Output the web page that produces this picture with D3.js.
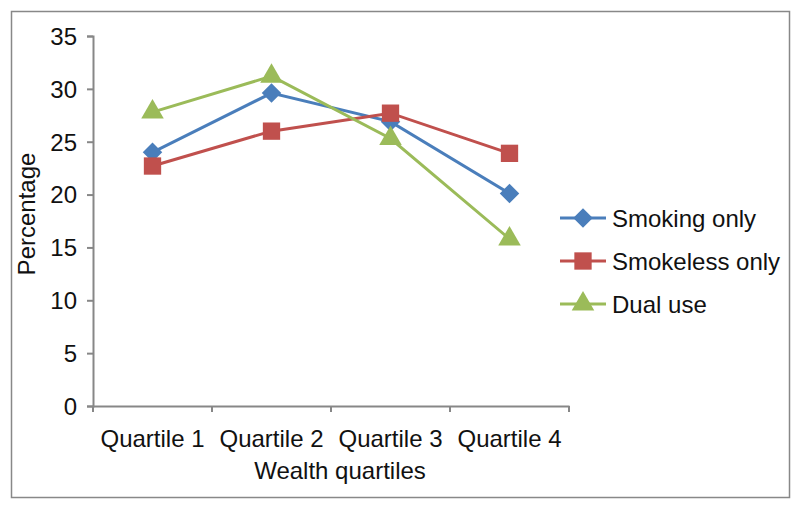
<!DOCTYPE html>
<html lang="en-US">
<head>
    <meta charset="UTF-8">
    <title>Wealth quartiles</title>
    <style>
    body {margin: 0; background: #fff;}
    svg text {font-family: "Liberation Sans", Arial, sans-serif; fill: #111;}
    </style>
</head>
<body>
    <div id="viz"></div>
    <script src="https://d3js.org/d3.v7.min.js"></script>
    <script>

    var quartiles = ["Quartile 1", "Quartile 2", "Quartile 3", "Quartile 4"];
    var smokingOnly = [24.0, 29.6, 26.9, 20.1];
    var smokelessOnly = [22.7, 26.0, 27.7, 23.9];
    var dualUse = [27.8, 31.2, 25.3, 15.8];
    var yTicks = [0, 5, 10, 15, 20, 25, 30, 35];

    var series = [
        {name: "Smoking only", values: smokingOnly, color: "#4A7EBB", shape: "diamond"},
        {name: "Smokeless only", values: smokelessOnly, color: "#C0504D", shape: "square"},
        {name: "Dual use", values: dualUse, color: "#9BBB59", shape: "triangle"}
    ];

    var width = 800,
        height = 509;

    var svg = d3.select("#viz").append("svg")
        .attr("width", width)
        .attr("height", height);

    // frame
    svg.append("rect")
        .attr("x", 11.5).attr("y", 11.5)
        .attr("width", 778).attr("height", 486)
        .attr("fill", "none")
        .attr("stroke", "#888")
        .attr("stroke-width", 1.5);

    var x = d3.scaleBand()
        .domain(quartiles)
        .range([93, 569]);

    var y = d3.scaleLinear()
        .domain([0, 35])
        .range([406, 36]);

    var axisColor = "#878787";

    // y axis
    var yAxis = svg.append("g")
        .attr("transform", "translate(93,0)")
        .call(d3.axisLeft(y).tickValues(yTicks).tickSize(6).tickPadding(10));
    yAxis.select(".domain").attr("stroke", axisColor).attr("stroke-width", 2);
    yAxis.selectAll(".tick line").attr("stroke", axisColor).attr("stroke-width", 2);
    yAxis.selectAll("text").style("font-size", "24px").attr("fill", "#111").attr("dy", "0.35em");

    // x axis, ticks between categories
    var xAxis = svg.append("g")
        .attr("transform", "translate(0,406)")
        .call(d3.axisBottom(x).tickSize(0).tickPadding(24));
    xAxis.select(".domain").attr("stroke", axisColor).attr("stroke-width", 2);
    xAxis.selectAll("text").style("font-size", "24px").attr("fill", "#111");

    var bounds = quartiles.map(function (q) { return x(q); }).concat([x.range()[1]]);
    xAxis.selectAll(".sep")
        .data(bounds)
        .enter().append("line")
        .attr("class", "sep")
        .attr("x1", function (d) { return d; })
        .attr("x2", function (d) { return d; })
        .attr("y1", 0).attr("y2", 6)
        .attr("stroke", axisColor)
        .attr("stroke-width", 2);

    // axis titles
    svg.append("text")
        .attr("transform", "translate(35,214) rotate(-90)")
        .attr("text-anchor", "middle")
        .style("font-size", "24px")
        .text("Percentage");

    svg.append("text")
        .attr("x", 340).attr("y", 479)
        .attr("text-anchor", "middle")
        .style("font-size", "24px")
        .text("Wealth quartiles");

    var line = d3.line()
        .x(function (d, i) { return x(quartiles[i]) + x.bandwidth() / 2; })
        .y(function (d) { return y(d); });

    function marker(shape) {
        if (shape === "triangle") return {d: d3.symbol().type(d3.symbolTriangle).size(220)(), rot: 0};
        if (shape === "square") return {d: d3.symbol().type(d3.symbolSquare).size(300)(), rot: 0};
        return {d: d3.symbol().type(d3.symbolSquare).size(190)(), rot: 45};
    }

    var lines = svg.append("g");
    series.forEach(function (s) {
        var g = lines.append("g");
        var m = marker(s.shape);
        g.append("path")
            .datum(s.values)
            .attr("d", line)
            .attr("fill", "none")
            .attr("stroke", s.color)
            .attr("stroke-width", 3);
        g.selectAll("path.pt")
            .data(s.values)
            .enter().append("path")
            .attr("class", "pt")
            .attr("transform", function (d, i) {
                return "translate(" + (x(quartiles[i]) + x.bandwidth() / 2) + "," + y(d) + ") rotate(" + m.rot + ")";
            })
            .attr("d", m.d)
            .attr("fill", s.color);
    });

    // legend
    var legend = svg.append("g");
    var legendY = d3.scalePoint().domain(series.map(function (s) { return s.name; })).range([218, 304]);
    series.forEach(function (s) {
        var m = marker(s.shape);
        var row = legend.append("g").attr("transform", "translate(0," + legendY(s.name) + ")");
        row.append("line")
            .attr("x1", 560).attr("x2", 606)
            .attr("stroke", s.color)
            .attr("stroke-width", 3);
        row.append("path")
            .attr("transform", "translate(583,0) rotate(" + m.rot + ")")
            .attr("d", m.d)
            .attr("fill", s.color);
        row.append("text")
            .attr("x", 612).attr("y", 8.5)
            .style("font-size", "24px")
            .text(s.name);
    });

    </script>
</body>
</html>
